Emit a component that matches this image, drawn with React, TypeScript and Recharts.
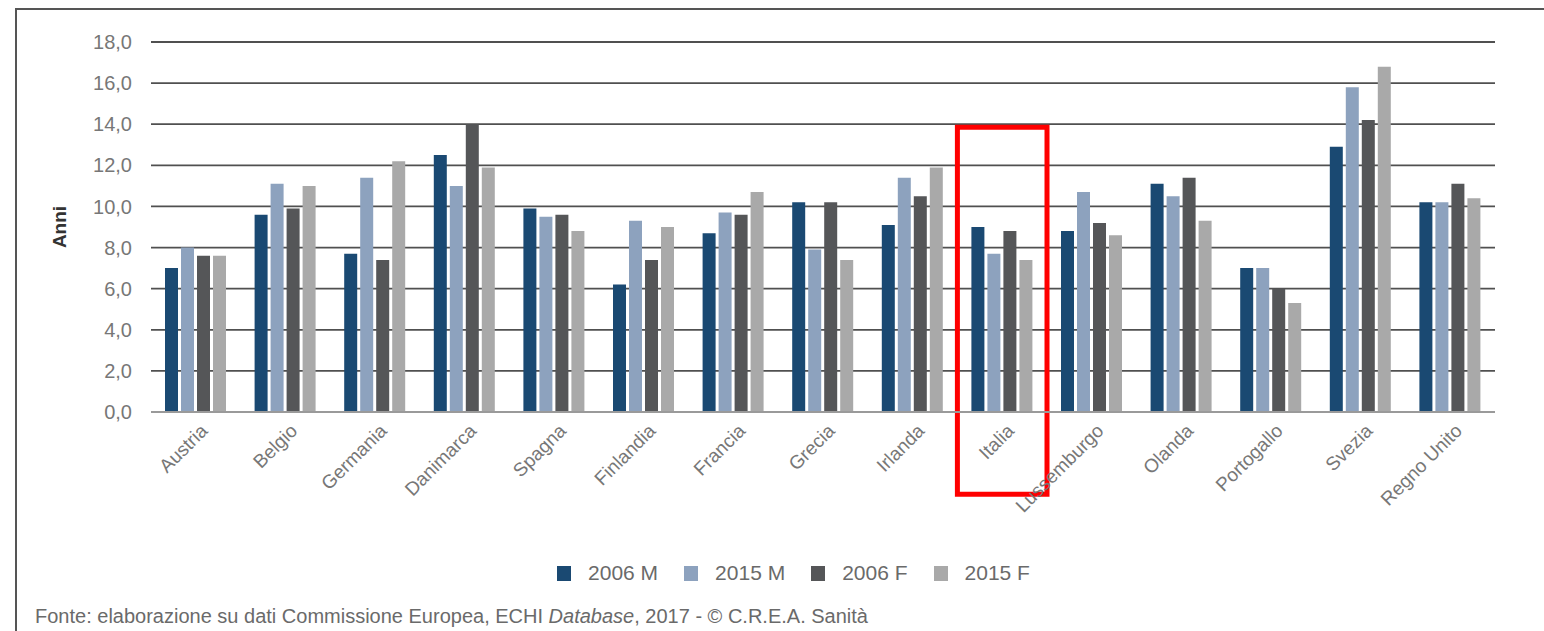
import React from 'react';
import { BarChart, Bar, XAxis, YAxis, CartesianGrid, Legend, ReferenceArea } from 'recharts';

const countries = ['Austria', 'Belgio', 'Germania', 'Danimarca', 'Spagna', 'Finlandia', 'Francia', 'Grecia', 'Irlanda', 'Italia', 'Lussemburgo', 'Olanda', 'Portogallo', 'Svezia', 'Regno Unito'];
const m2006 = [7.0, 9.6, 7.7, 12.5, 9.9, 6.2, 8.7, 10.2, 9.1, 9.0, 8.8, 11.1, 7.0, 12.9, 10.2];
const m2015 = [8.0, 11.1, 11.4, 11.0, 9.5, 9.3, 9.7, 7.9, 11.4, 7.7, 10.7, 10.5, 7.0, 15.8, 10.2];
const f2006 = [7.6, 9.9, 7.4, 14.0, 9.6, 7.4, 9.6, 10.2, 10.5, 8.8, 9.2, 11.4, 6.0, 14.2, 11.1];
const f2015 = [7.6, 11.0, 12.2, 11.9, 8.8, 9.0, 10.7, 7.4, 11.9, 7.4, 8.6, 9.3, 5.3, 16.8, 10.4];
const yTicks = [0, 2, 4, 6, 8, 10, 12, 14, 16, 18];
const seriesNames = ['2006 M', '2015 M', '2006 F', '2015 F'];
const seriesColors = ['#1a4972', '#8da2be', '#555658', '#a9a9a9'];
const highlighted = 'Italia';
const highlightRange = [-4, 13.85];
const sourceBefore = 'Fonte: elaborazione su dati Commissione Europea, ECHI ';
const sourceItalic = 'Database';
const sourceAfter = ', 2017 - © C.R.E.A. Sanità';

const data = countries.map((c, i) => ({
  name: c,
  s0: m2006[i],
  s1: m2015[i],
  s2: f2006[i],
  s3: f2015[i],
}));

const FONT = "'Liberation Sans', Arial, sans-serif";

const XTick = (props: any) => {
  const { x, y, payload } = props;
  return (
    <g transform={`translate(${x + 13},${y + 12})`}>
      <text x={0} y={0} textAnchor="end" transform="rotate(-45)" fill="#777" fontSize={19} fontFamily={FONT}>
        {payload.value}
      </text>
    </g>
  );
};

const LegendContent = () => (
  <div style={{ display: 'flex', justifyContent: 'center', alignItems: 'center', height: 30, paddingLeft: 92, fontFamily: FONT }}>
    {seriesNames.map((n, i) => (
      <div key={n} style={{ display: 'flex', alignItems: 'center', marginRight: i < seriesNames.length - 1 ? 26 : 0 }}>
        <div style={{ width: 14, height: 15, background: seriesColors[i], marginRight: 17 }} />
        <span style={{ fontSize: 21, color: '#6a6a6a' }}>{n}</span>
      </div>
    ))}
  </div>
);

const AnniLabel = (props: any) => {
  const vb = props.viewBox || { x: 0, y: 0, width: 0, height: 0 };
  const cx = vb.x + 59;
  const cy = vb.y + vb.height / 2;
  return (
    <text x={cx} y={cy} transform={`rotate(-90, ${cx}, ${cy})`} textAnchor="middle" dominantBaseline="central" fontSize={19} fontWeight="bold" fill="#333" fontFamily={FONT}>
      Anni
    </text>
  );
};

export default function App() {
  return (
    <div style={{ position: 'absolute', left: 0, top: 0, width: 1544, height: 631, background: '#fff', overflow: 'hidden' }}>
      <div style={{ position: 'absolute', left: 15, top: 8, width: 1529, height: 623, borderLeft: '2px solid #555', borderTop: '2px solid #555' }} />
      <div style={{ position: 'absolute', left: 0, top: 0 }}>
        <BarChart
          width={1544}
          height={631}
          data={data}
          margin={{ top: 42, right: 49, left: 0, bottom: 43 }}
          barGap={3}
          barCategoryGap="15%"
        >
          <CartesianGrid vertical={false} stroke="#505050" strokeWidth={1.8} />
          <XAxis
            dataKey="name"
            height={146}
            interval={0}
            tickLine={false}
            axisLine={{ stroke: '#9a9a9a', strokeWidth: 2 }}
            tick={<XTick />}
          />
          <YAxis
            width={151}
            domain={[0, 18]}
            ticks={yTicks}
            interval={0}
            axisLine={false}
            tickLine={false}
            tickMargin={13}
            tickFormatter={(v: number) => v.toFixed(1).replace('.', ',')}
            tick={{ fill: '#777', fontSize: 20, fontFamily: FONT }}
            label={<AnniLabel />}
          />
          <Legend verticalAlign="bottom" height={30} content={<LegendContent />} />
          {['s0', 's1', 's2', 's3'].map((k, i) => (
            <Bar key={k} dataKey={k} name={seriesNames[i]} fill={seriesColors[i]} barSize={13} isAnimationActive={false} />
          ))}
          <ReferenceArea
            x1={highlighted}
            x2={highlighted}
            y1={highlightRange[0]}
            y2={highlightRange[1]}
            ifOverflow="visible"
            fill="none"
            fillOpacity={0}
            stroke="#ff0000"
            strokeWidth={5}
          />
        </BarChart>
      </div>
      <div style={{ position: 'absolute', left: 35, top: 605, fontSize: 20, color: '#6a6a6a', fontFamily: FONT, whiteSpace: 'nowrap' }}>
        {sourceBefore}
        <i>{sourceItalic}</i>
        {sourceAfter}
      </div>
    </div>
  );
}
